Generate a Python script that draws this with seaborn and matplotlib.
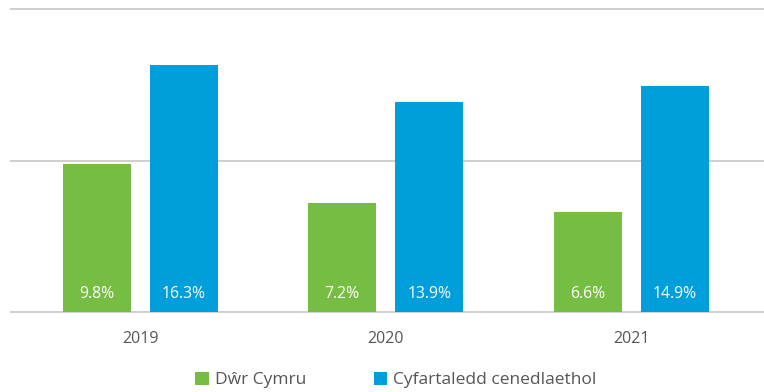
import matplotlib
matplotlib.use("Agg")
import matplotlib.pyplot as plt
import seaborn as sns
import pandas as pd

years = ["2019", "2020", "2021"]
series_names = ["Dŵr Cymru", "Cyfartaledd cenedlaethol"]
dwr_cymru = [9.8, 7.2, 6.6]
national_avg = [16.3, 13.9, 14.9]
colors = ["#76BD43", "#009FDB"]

df = pd.DataFrame({
    "year": years * 2,
    "series": [series_names[0]] * 3 + [series_names[1]] * 3,
    "value": dwr_cymru + national_avg,
})

sns.set_theme(style="white")
plt.rcParams["font.family"] = ["Open Sans", "DejaVu Sans"]

fig = plt.figure(figsize=(7.64, 3.92), dpi=100)
W, H = 764, 392
ymin, ymax = -0.2, 20.3
ppu = (311.7 - 9.3) / 20.0
bottom_px = 311.7 + (0 - ymin) * ppu
top_px = 311.7 - ymax * ppu
ax = fig.add_axes([10 / W, (H - bottom_px) / H, 754 / W, (bottom_px - top_px) / H])

sns.barplot(data=df, x="year", y="value", hue="series", order=years,
            hue_order=series_names, palette=colors, width=0.709, gap=0.218,
            saturation=1, linewidth=0, ax=ax, legend=True)

ax.set_ylim(ymin, ymax)
ax.set_xlim(-0.53, 2.54)
ax.set_yticks([0, 10, 20])
ax.yaxis.grid(True, color="#cfcfcf", linewidth=1.4)
ax.set_axisbelow(True)
ax.tick_params(axis="y", left=False, labelleft=False)
ax.tick_params(axis="x", bottom=False, colors="#555555", labelsize=11.5, pad=6)
for s in ax.spines.values():
    s.set_visible(False)
ax.set_xlabel("")
ax.set_ylabel("")

for cont in ax.containers:
    for bar, v in zip(cont, cont.datavalues):
        ax.text(bar.get_x() + bar.get_width() / 2, 1.2, f"{v:.1f}%",
                ha="center", va="center", color="white", fontsize=11.3)

handles, labels = ax.get_legend_handles_labels()
ax.get_legend().remove()
fig.legend(handles, labels, loc="center", bbox_to_anchor=(0.518, 1 - 380 / H),
           ncol=2, frameon=False, handlelength=0.8, handleheight=0.8,
           handletextpad=0.3, columnspacing=3.9, fontsize=12.5,
           labelcolor="#555555")

fig.savefig("out.png", dpi=100)
